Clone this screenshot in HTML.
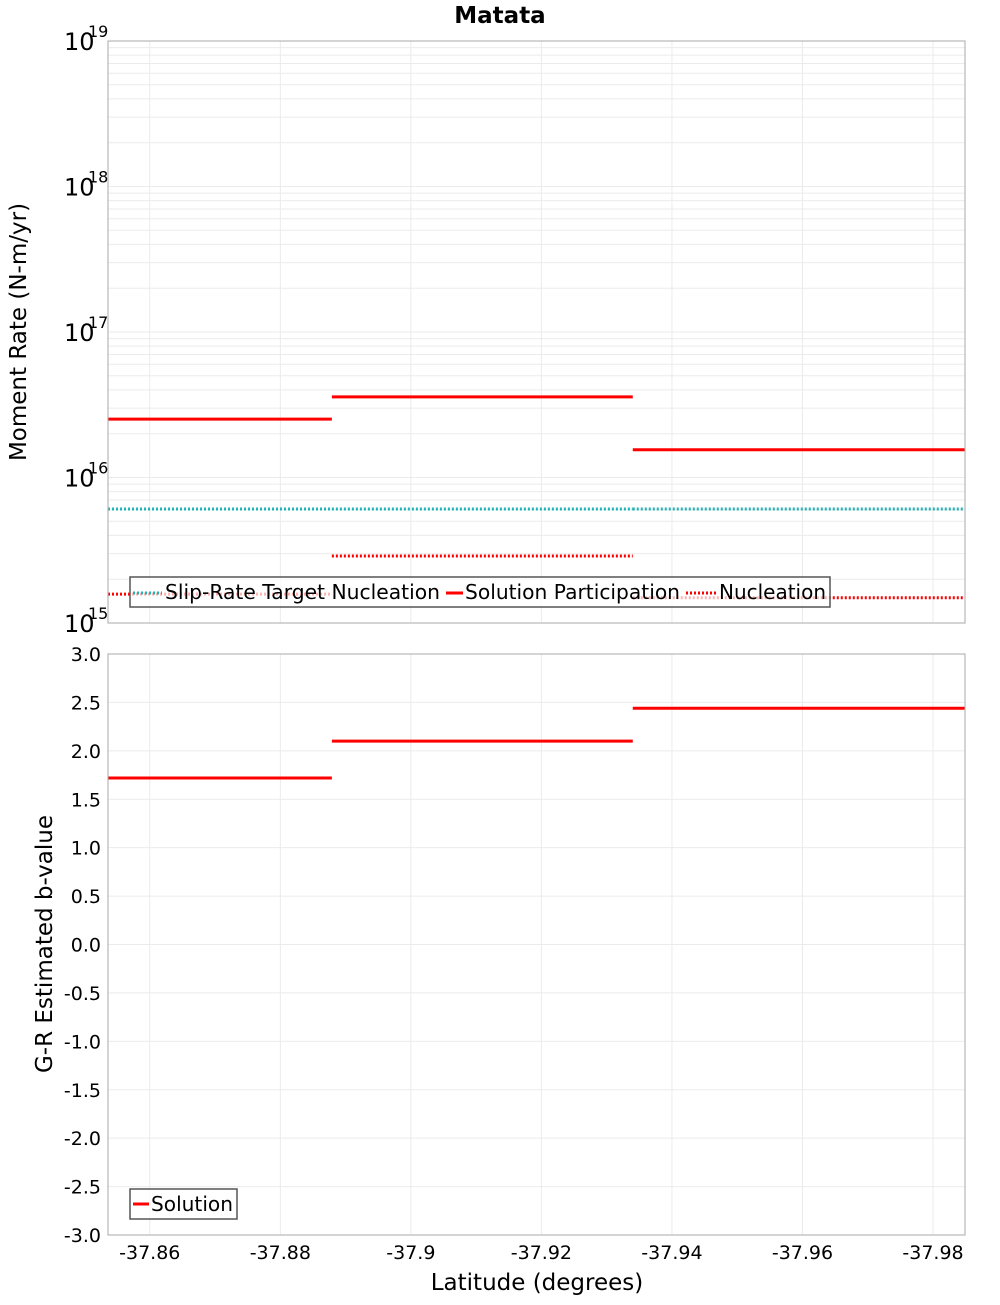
<!DOCTYPE html>
<html><head><meta charset="utf-8"><style>
body{margin:0;background:#fff;font-family:"Liberation Sans","DejaVu Sans",sans-serif}
</style></head><body>
<svg id="c" width="1000" height="1300" xmlns="http://www.w3.org/2000/svg" font-family="DejaVu Sans, Liberation Sans, sans-serif"></svg>
<script>
const xTicks=[-37.86,-37.88,-37.9,-37.92,-37.94,-37.96,-37.98];
const xTickLabels=["-37.86","-37.88","-37.9","-37.92","-37.94","-37.96","-37.98"];
const segStart=[-37.8536,-37.8879,-37.934];
const segEnd=[-37.8879,-37.934,-37.9849];
const participation=[2.52e16,3.58e16,1.55e16];
const nucleation=[1.58e15,2.89e15,1.49e15];
const slipTarget=[6.07e15,6.07e15,6.07e15];
const bValues=[1.72,2.10,2.44];
const bTicks=[3,2.5,2,1.5,1,0.5,0,-0.5,-1,-1.5,-2,-2.5,-3];
const logTicks=[15,16,17,18,19];

const NS="http://www.w3.org/2000/svg",svg=document.getElementById('c');
const L=108,R=965,T1=41,B1=623,T2=654,B2=1235,X0=-37.8536,X1=-37.9849;
const xs=v=>L+(v-X0)/(X1-X0)*(R-L);
const ly=v=>B1-(Math.log10(v)-15)/4*(B1-T1);
const by=v=>B2-(v+3)/6*(B2-T2);
function el(t,a,p){const e=document.createElementNS(NS,t);for(const k in a)e.setAttribute(k,a[k]);(p||svg).appendChild(e);return e;}
function txt(s,a,p){const e=el('text',a,p);e.textContent=s;return e;}

el('rect',{x:L,y:T1,width:R-L,height:B1-T1,fill:'#fff'});
el('rect',{x:L,y:T2,width:R-L,height:B2-T2,fill:'#fff'});
for(let d=15;d<19;d++)for(let m=1;m<10;m++){const y=ly(m*Math.pow(10,d));
 const g=el('line',{x1:L,x2:R,y1:y,y2:y,stroke:'#ebebeb','stroke-width':1});
 }
bTicks.forEach(v=>{const y=by(v);const g=el('line',{x1:L,x2:R,y1:y,y2:y,stroke:'#ebebeb'});
 });
xTicks.forEach(v=>{const x=xs(v);[[T1,B1],[T2,B2]].forEach(([a,b])=>{const g=el('line',{x1:x,x2:x,y1:a,y2:b,stroke:'#ebebeb'});
 });});

function seg(arr,yf,color,dash,name){arr.forEach((v,i)=>{const a={x1:xs(segStart[i]),x2:xs(segEnd[i]),y1:yf(v),y2:yf(v),stroke:color,'stroke-width':3};
 if(dash)a['stroke-dasharray']='2,2';const s=el('line',a);
 });}
seg(slipTarget,ly,'#1fb5b5',true,'slip-rate-target-segment');
seg(participation,ly,'#ff0000',false,'participation-segment');
seg(nucleation,ly,'#ff0000',true,'nucleation-segment');
seg(bValues,by,'#ff0000',false,'b-value-segment');

el('rect',{x:L,y:T1,width:R-L,height:B1-T1,fill:'none',stroke:'#aaa'});
el('rect',{x:L,y:T2,width:R-L,height:B2-T2,fill:'none',stroke:'#aaa'});

logTicks.forEach(d=>{const y=ly(Math.pow(10,d));
 const t=txt('10',{x:64,y:y+9,'font-size':24,fill:'#000'});
 const s=txt(String(d),{x:88,y:y-4,'font-size':16,fill:'#000'});});
bTicks.forEach(v=>{const t=txt(v.toFixed(1),{x:101,y:by(v)+7,'font-size':19,'text-anchor':'end',fill:'#000'});
 });
xTicks.forEach((v,i)=>{const t=txt(xTickLabels[i],{x:xs(v),y:1259,'font-size':19,'text-anchor':'middle',fill:'#000'});
 });

let t=txt('Matata',{x:500,y:23,'font-size':23,'font-weight':'bold','text-anchor':'middle'});
t=txt('Latitude (degrees)',{x:537,y:1290,'font-size':23,'text-anchor':'middle'});
t=txt('Moment Rate (N-m/yr)',{x:0,y:0,'font-size':23,'text-anchor':'middle',transform:'translate(26,332) rotate(-90)'});
t=txt('G-R Estimated b-value',{x:0,y:0,'font-size':23,'text-anchor':'middle',transform:'translate(52,944) rotate(-90)'});

let g=el('g',{});
el('rect',{x:130,y:577,width:700,height:30,fill:'rgba(255,255,255,0.7)',stroke:'#555','stroke-width':1.5},g);
el('line',{x1:133,x2:162,y1:593,y2:593,stroke:'#1fb5b5','stroke-width':3,'stroke-dasharray':'2,2'},g);
txt('Slip-Rate Target Nucleation',{x:165,y:599,'font-size':20,textLength:275,lengthAdjust:'spacingAndGlyphs'},g);
el('line',{x1:446,x2:463,y1:593,y2:593,stroke:'#f00','stroke-width':3},g);
txt('Solution Participation',{x:465,y:599,'font-size':20,textLength:215,lengthAdjust:'spacingAndGlyphs'},g);
el('line',{x1:686,x2:716,y1:593,y2:593,stroke:'#f00','stroke-width':3,'stroke-dasharray':'2,2'},g);
txt('Nucleation',{x:719,y:599,'font-size':20,textLength:107,lengthAdjust:'spacingAndGlyphs'},g);
g=el('g',{});
el('rect',{x:130,y:1189,width:107,height:30,fill:'rgba(255,255,255,0.7)',stroke:'#555','stroke-width':1.5},g);
el('line',{x1:133,x2:149,y1:1204,y2:1204,stroke:'#f00','stroke-width':3},g);
txt('Solution',{x:151,y:1211,'font-size':20,textLength:82,lengthAdjust:'spacingAndGlyphs'},g);
</script>
</body></html>
